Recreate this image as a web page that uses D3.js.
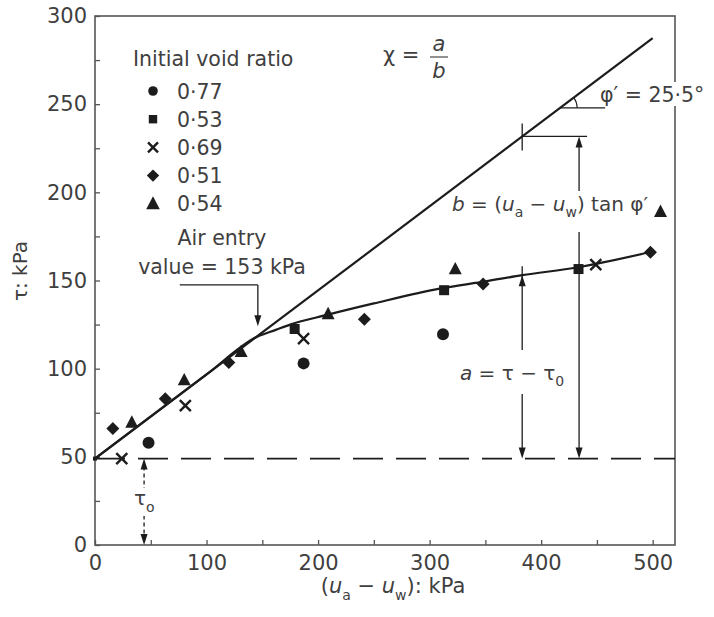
<!DOCTYPE html>
<html>
<head>
<meta charset="utf-8">
<script src="https://cdn.jsdelivr.net/npm/d3@7"></script>
<style>
  body { margin: 0; background: #fff; }
  text { font-family: "DejaVu Sans", sans-serif; fill: #3f3f3f; }
</style>
</head>
<body>
<svg id="chart" width="714" height="617"></svg>
<script>
// series: [suction (kPa), shear strength (kPa)]
var voidRatios = ['0·77', '0·53', '0·69', '0·51', '0·54'];
var shapes = ['circle', 'square', 'cross', 'diamond', 'triangle'];
var e077 = [[48, 58], [187, 103], [312, 119.5]];
var e053 = [[179, 122.5], [313, 144.5], [433.5, 156.5]];
var e069 = [[24, 49], [81, 79], [187, 117], [449, 159]];
var e051 = [[16, 66], [63, 83], [120, 103.5], [241.5, 128], [348, 148], [498, 166]];
var e054 = [[33, 69.5], [80, 93.5], [131, 109.5], [209, 131], [323, 156.5], [507, 189]];
var series = [e077, e053, e069, e051, e054];

// fitted curve through the data
var curvePts = [[0, 49], [100, 96.7], [145, 118], [162, 122], [175, 125], [208, 130.5],
                [250, 137], [310, 145.5], [350, 149.5], [383, 153], [433, 157.5], [497, 166]];

var tau0 = 49, phiDeg = 25.5, lineEnd = 500;
var airEntry = 146;
var aX = 383, bX = 434, tauArrowX = 44, angleX = 417;

var xTicks = d3.range(0, 501, 50);
var yTicks = d3.range(0, 301, 25);

var svg = d3.select('#chart');
var x = d3.scaleLinear().domain([0, 520]).range([95, 675]);
var y = d3.scaleLinear().domain([0, 300]).range([545, 16]);
var tanPhi = Math.tan(phiDeg * Math.PI / 180);
var ink = '#1c1c1c';

// axes, ticks pointing inward
var xAxis = d3.axisBottom(x).tickValues(xTicks).tickSize(-5).tickPadding(10)
  .tickFormat(function(d) { return d % 100 === 0 ? d : ''; });
var yAxis = d3.axisLeft(y).tickValues(yTicks).tickSize(-5).tickPadding(8)
  .tickFormat(function(d) { return d % 50 === 0 ? d : ''; });

svg.append('g').attr('transform', 'translate(0,545)').call(xAxis);
svg.append('g').attr('transform', 'translate(95,0)').call(yAxis);
svg.selectAll('.domain').remove();
svg.selectAll('.tick line').attr('stroke', '#555').attr('stroke-width', 1.3);
svg.selectAll('.tick text').style('font-size', '21px').style('fill', '#3f3f3f')
  .style('font-family', '"DejaVu Sans", sans-serif');

svg.append('rect')
  .attr('x', x(0)).attr('y', y(300))
  .attr('width', x(520) - x(0)).attr('height', y(0) - y(300))
  .attr('fill', 'none').attr('stroke', '#555').attr('stroke-width', 1.6);

// dashed tau0 line
svg.append('line')
  .attr('x1', x(0)).attr('x2', x(520)).attr('y1', y(tau0)).attr('y2', y(tau0))
  .attr('stroke', ink).attr('stroke-width', 1.8).attr('stroke-dasharray', '30,13');

// straight (saturated) line
svg.append('line')
  .attr('x1', x(0)).attr('y1', y(tau0))
  .attr('x2', x(lineEnd)).attr('y2', y(tau0 + lineEnd * tanPhi))
  .attr('stroke', ink).attr('stroke-width', 2.2);

// fitted curve
var line = d3.line()
  .x(function(d) { return x(d[0]); })
  .y(function(d) { return y(d[1]); })
  .curve(d3.curveMonotoneX);
svg.append('path').datum(curvePts)
  .attr('d', line).attr('fill', 'none').attr('stroke', ink).attr('stroke-width', 2.2);

svg.append('rect')
  .attr('x', x(0) - 2).attr('y', y(tau0) - 2).attr('width', 4).attr('height', 4).attr('fill', ink);

// marker shapes
var markerPath = function(shape, s) {
  if (shape === 'circle') {
    var p = d3.path(); p.arc(0, 0, s, 0, 2 * Math.PI); return p.toString();
  }
  if (shape === 'square') return 'M' + (-s) + ',' + (-s) + 'h' + 2 * s + 'v' + 2 * s + 'h' + (-2 * s) + 'Z';
  if (shape === 'diamond') return 'M0,' + (-s) + 'L' + s + ',0L0,' + s + 'L' + (-s) + ',0Z';
  if (shape === 'triangle') return 'M0,' + (-s * 1.1) + 'L' + s + ',' + (s * 0.8) + 'L' + (-s) + ',' + (s * 0.8) + 'Z';
  return 'M' + (-s) + ',' + (-s) + 'L' + s + ',' + s + 'M' + s + ',' + (-s) + 'L' + (-s) + ',' + s;
};
var plotSize = {circle: 6, square: 5, cross: 5.5, diamond: 6.5, triangle: 6.5};
var legSize = {circle: 4.8, square: 4.2, cross: 5, diamond: 6.2, triangle: 6.8};

var drawMarker = function(g, shape, s, px, py) {
  var m = g.append('path').attr('d', markerPath(shape, s))
    .attr('transform', 'translate(' + px + ',' + py + ')');
  if (shape === 'cross') m.attr('fill', 'none').attr('stroke', ink).attr('stroke-width', 2.4);
  else m.attr('fill', ink);
};

series.forEach(function(data, i) {
  var g = svg.append('g').attr('class', 'series');
  data.forEach(function(d) { drawMarker(g, shapes[i], plotSize[shapes[i]], x(d[0]), y(d[1])); });
});

// legend
svg.append('text').attr('x', 133).attr('y', 65.5).style('font-size', '20.5px').text('Initial void ratio');
voidRatios.forEach(function(r, i) {
  var cy = 91 + i * 28.2;
  drawMarker(svg, shapes[i], legSize[shapes[i]], 153, cy);
  svg.append('text').attr('x', 177).attr('y', cy + 7.5).style('font-size', '20.5px').text(r);
});

// arrow helper
var arrowHead = function(px, py, dir) {
  var k = dir === 'up' ? 1 : -1;
  svg.append('path')
    .attr('d', 'M' + px + ',' + py + 'L' + (px + 3.5) + ',' + (py + k * 11) + 'L' + (px - 3.5) + ',' + (py + k * 11) + 'Z')
    .attr('fill', ink);
};
var seg = function(x1, y1, x2, y2, w, dash) {
  var l = svg.append('line').attr('x1', x1).attr('y1', y1).attr('x2', x2).attr('y2', y2)
    .attr('stroke', ink).attr('stroke-width', w || 1.3);
  if (dash) l.attr('stroke-dasharray', dash);
  return l;
};

// air entry annotation
svg.append('text').attr('x', 222).attr('y', 245).attr('text-anchor', 'middle').style('font-size', '20.5px').text('Air entry');
svg.append('text').attr('x', 222).attr('y', 274).attr('text-anchor', 'middle').style('font-size', '20.5px').text('value = 153 kPa');
seg(x(76), y(147.5), x(airEntry), y(147.5), 1.3);
seg(x(airEntry), y(147.5), x(airEntry), y(124) - 8, 1.3);
arrowHead(x(airEntry), y(124), 'down');

// chi = a / b
svg.append('text').attr('x', 383).attr('y', 62).style('font-size', '21px').text('χ =');
svg.append('text').attr('x', 439).attr('y', 51).attr('text-anchor', 'middle').style('font-size', '21px').style('font-style', 'italic').text('a');
svg.append('text').attr('x', 439).attr('y', 78).attr('text-anchor', 'middle').style('font-size', '21px').style('font-style', 'italic').text('b');
seg(430, 57, 448, 57, 1.3).attr('stroke', '#555');

// phi' angle
var ang = { x: x(angleX), y: y(tau0 + angleX * tanPhi) };
var pixAngle = Math.atan((y(0) - y(tanPhi * 100)) / (x(100) - x(0)));
var r = 17;
seg(ang.x, ang.y, ang.x + 45, ang.y, 1.2);
svg.append('path')
  .attr('d', 'M' + (ang.x + r) + ',' + ang.y + 'A' + r + ',' + r + ' 0 0 0 ' +
    (ang.x + r * Math.cos(pixAngle)) + ',' + (ang.y - r * Math.sin(pixAngle)))
  .attr('fill', 'none').attr('stroke', ink).attr('stroke-width', 1.2);
svg.append('rect').attr('x', 660).attr('y', 82).attr('width', 50).attr('height', 24).attr('fill', '#fff');
svg.append('text').attr('x', 600).attr('y', 102).style('font-size', '20.5px').text('φ′ = 25·5°');

// b arrow
var yUpper = y(tau0 + aX * tanPhi);
seg(x(aX), yUpper - 13, x(aX), yUpper + 14, 1.3);
seg(x(aX), yUpper, x(bX) + 8, yUpper, 1.3);
seg(x(bX), yUpper + 8, x(bX), 191, 1.3);
seg(x(bX), 232, x(bX), y(tau0) - 8, 1.3);
arrowHead(x(bX), yUpper, 'up');
arrowHead(x(bX), y(tau0), 'down');
var bText = svg.append('text').attr('x', 452).attr('y', 211).style('font-size', '20px');
bText.append('tspan').style('font-style', 'italic').text('b');
bText.append('tspan').text(' = (');
bText.append('tspan').style('font-style', 'italic').text('u');
bText.append('tspan').attr('dy', 6).style('font-size', '14px').text('a');
bText.append('tspan').attr('dy', -6).text(' − ');
bText.append('tspan').style('font-style', 'italic').text('u');
bText.append('tspan').attr('dy', 6).style('font-size', '14px').text('w');
bText.append('tspan').attr('dy', -6).text(') tan φ′');

// a arrow
var yCurve = y(153);
seg(x(aX), yCurve - 9, x(aX), 350, 1.3);
seg(x(aX), 394, x(aX), y(tau0) - 8, 1.3);
arrowHead(x(aX), yCurve, 'up');
arrowHead(x(aX), y(tau0), 'down');
var aText = svg.append('text').attr('x', 460).attr('y', 380).style('font-size', '20px');
aText.append('tspan').style('font-style', 'italic').text('a');
aText.append('tspan').text(' = τ − τ');
aText.append('tspan').attr('dy', 6).style('font-size', '14px').text('0');

// tau0 arrow
seg(x(tauArrowX), y(tau0) + 8, x(tauArrowX), y(0) - 8, 1.3, '4,3');
arrowHead(x(tauArrowX), y(tau0), 'up');
arrowHead(x(tauArrowX), y(0), 'down');
svg.append('rect').attr('x', 133).attr('y', 488).attr('width', 26).attr('height', 28).attr('fill', '#fff');
var tText = svg.append('text').attr('x', 134).attr('y', 505).style('font-size', '20px');
tText.append('tspan').text('τ');
tText.append('tspan').attr('dy', 7).style('font-size', '14px').text('o');

// axis titles
svg.append('text').attr('transform', 'translate(27,271) rotate(-90)')
  .attr('text-anchor', 'middle').style('font-size', '20px').text('τ: kPa');
var xTitle = svg.append('text').attr('x', 393).attr('y', 593).attr('text-anchor', 'middle').style('font-size', '21px');
xTitle.append('tspan').text('(');
xTitle.append('tspan').style('font-style', 'italic').text('u');
xTitle.append('tspan').attr('dy', 7).style('font-size', '14px').text('a');
xTitle.append('tspan').attr('dy', -7).text(' − ');
xTitle.append('tspan').style('font-style', 'italic').text('u');
xTitle.append('tspan').attr('dy', 7).style('font-size', '14px').text('w');
xTitle.append('tspan').attr('dy', -7).text('): kPa');
</script>
</body>
</html>
